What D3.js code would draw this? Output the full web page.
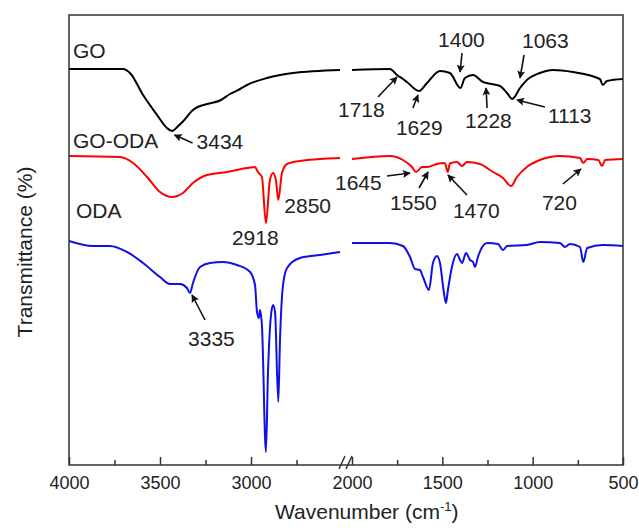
<!DOCTYPE html>
<html>
<head>
<meta charset="UTF-8">
<title>FTIR spectra of GO, GO-ODA and ODA</title>
<script src="https://d3js.org/d3.v7.min.js"></script>
<style>
  body { margin: 0; background: #fff; }
  svg { font-family: "Liberation Sans", Arial, sans-serif; }
</style>
</head>
<body>
<svg id="chart"></svg>
<script>
// spectra: wavenumber (cm-1) and transmittance (a.u.)
const goWn = [4000, 3850, 3703, 3665, 3593, 3516, 3462, 3434, 3400, 3374, 3319, 3242, 3170, 3115, 3060, 3022, 2912, 2769, 2511,
  2000, 1790, 1751, 1718, 1696, 1629, 1585, 1513, 1458, 1400, 1375, 1330, 1275, 1228, 1181, 1142, 1113, 1070, 1032, 960, 888, 777, 628, 612, 589, 500];
const goT = [79.2, 79.2, 79.2, 78.4, 74, 70, 67.4, 66.8, 67.8, 68.7, 71, 72.2, 72.9, 74.2, 75.2, 76, 77.4, 78.4, 79,
  79, 79.2, 78, 77.2, 76.6, 74.8, 76.4, 78.8, 78.4, 75.4, 77.4, 78, 76.6, 76.2, 75.8, 74.4, 73.2, 75.4, 77, 78.4, 79, 78.6, 77.2, 76, 76.8, 77.2];

const goOdaWn = [4000, 3720, 3648, 3571, 3500, 3434, 3374, 3319, 3242, 3132, 3022, 2978, 2962, 2940, 2918, 2896, 2879, 2863, 2850, 2830, 2802, 2731, 2511,
  2000, 1790, 1718, 1668, 1645, 1613, 1585, 1530, 1496, 1485, 1470, 1458, 1419, 1391, 1364, 1292, 1220, 1164, 1120, 1087, 1032, 960, 849, 738, 720, 698, 637, 616, 599, 500];
const goOdaT = [61.8, 61.6, 60.4, 57.6, 54.6, 53.6, 54.4, 56.4, 58, 58.6, 59.4, 59.6, 58.6, 57.6, 48.4, 57, 58.4, 57, 53, 58.4, 60.2, 60.8, 61.4,
  61.2, 61.8, 61, 59.6, 58.6, 59.6, 59.6, 60.2, 60.4, 60.3, 58.6, 60.3, 60.6, 59.8, 60.6, 60.2, 58.6, 57.4, 55.8, 57.6, 59.6, 61, 61.8, 61.4, 60.4, 61.2, 61, 59.8, 61, 61.2];

const odaWn = [4000, 3868, 3775, 3681, 3593, 3500, 3445, 3390, 3352, 3335, 3319, 3280, 3225, 3154, 3077, 3005, 2978, 2967, 2956, 2951, 2940, 2918, 2907, 2890, 2879, 2868, 2850, 2841, 2824, 2802, 2731, 2621, 2511,
  2000, 1790, 1718, 1679, 1651, 1624, 1607, 1574, 1552, 1530, 1513, 1491, 1480, 1469, 1447, 1419, 1402, 1391, 1369, 1347, 1330, 1319, 1303, 1253, 1192, 1164, 1142, 1032, 960, 849, 821, 794, 738, 720, 698, 612, 500];
const odaT = [44.8, 43.8, 43.8, 42.6, 40.4, 37.6, 36.2, 36.2, 35.4, 34.4, 36.4, 39.6, 40.4, 40.6, 40, 38.6, 36, 30.6, 29.4, 31, 28, 2.6, 18, 30, 32, 30.6, 12.6, 24.6, 36, 39.4, 41.4, 42, 42.6,
  44.4, 44.4, 43.8, 41.6, 39.2, 39, 37.6, 35, 40.4, 41.8, 40.4, 34.4, 32.4, 35, 39.6, 42.2, 41, 40.4, 42.4, 41, 40.6, 39.6, 41.6, 44.4, 44.2, 43, 43.8, 44, 44.6, 44.4, 43.6, 44.2, 43.6, 40.6, 43.4, 44, 43.8];

const seriesNames = ["GO", "GO-ODA", "ODA"];
const seriesLabelT = [81.4, 63.4, 49.4];

const majorHigh = [4000, 3500, 3000];
const minorHigh = [3750, 3250, 2750];
const majorLow = [2000, 1500, 1000, 500];
const minorLow = [1750, 1250, 750];

// peak annotations: label, arrow head (wavenumber, transmittance)
const peakLabels = ["3434", "2918", "2850", "3335", "1718", "1629", "1400", "1063", "1228", "1113", "1645", "1550", "1470", "720"];
const peakWn = [3420, 2918, 2850, 3324, 1751, 1635, 1402, 1070, 1258, 1087, 1679, 1579, 1469, 733];
const peakT = [66, 48.4, 53, 34, 77.6, 74, 78.6, 77.4, 75.4, 73, 58.4, 58.6, 58, 59.2];

// layout for the annotations (pixel offsets from arrow head)
const peakLayout = {
  "3434": { tail: [18, 8], text: [22, 14] },
  "2918": { tail: null, text: [-34, 22] },
  "2850": { tail: null, text: [6, 13] },
  "3335": { tail: [13, 25], text: [-4, 51] },
  "1718": { tail: [-19, 20], text: [-59, 40] },
  "1629": { tail: [-5, 13], text: [-22, 40] },
  "1400": { tail: [2, -19], text: [-22, -25] },
  "1063": { tail: [4, -23], text: [2, -30] },
  "1228": { tail: [1, 20], text: [-21, 40] },
  "1113": { tail: [28, 7], text: [31, 23] },
  "1645": { tail: [-23, 3], text: [-75, 17] },
  "1550": { tail: [-9, 16], text: [-38, 38] },
  "1470": { tail: [19, 20], text: [5, 43] },
  "720": { tail: [-18, 15], text: [-39, 41] }
};

const colors = ["#000000", "#ff0000", "#1010e6"];

const w = 639, h = 528;
const padL = 69, padR = 623, padT = 15, padB = 465;

const xHigh = d3.scaleLinear().domain([4000, 2500]).range([padL, 342]);
const xLow = d3.scaleLinear().domain([2000, 500]).range([352, padR]);
const x = wn => wn > 2250 ? xHigh(wn) : xLow(wn);
const y = d3.scaleLinear().domain([0, 90]).range([padB, padT]);

const svg = d3.select("#chart").attr("width", w).attr("height", h);

const line = d3.line()
  .x(d => x(d[0]))
  .y(d => y(d[1]))
  .curve(d3.curveMonotoneX);

const series = [[goWn, goT], [goOdaWn, goOdaT], [odaWn, odaT]];
series.forEach((s, i) => {
  const pts = s[0].map((wn, j) => [wn, s[1][j]]);
  const high = pts.filter(p => p[0] > 2250);
  const low = pts.filter(p => p[0] <= 2250);
  [high, low].forEach(seg => {
    svg.append("path")
      .datum(seg)
      .attr("d", line)
      .attr("fill", "none")
      .attr("stroke", colors[i])
      .attr("stroke-width", 2)
      .attr("stroke-linejoin", "round");
  });
});

// axes
function addAxis(scale, values, size, labels) {
  const ax = d3.axisBottom(scale).tickValues(values).tickSize(-size).tickPadding(11)
    .tickFormat(labels ? d3.format("d") : "");
  const g = svg.append("g")
    .attr("transform", `translate(0,${padB})`)
    .call(ax);
  g.select(".domain").remove();
  g.selectAll(".tick line").attr("stroke", "#333").attr("stroke-width", 1.5);
  g.selectAll("text").attr("font-size", 18).attr("fill", "#222")
    .attr("font-family", "Liberation Sans, Arial, sans-serif");
}
addAxis(xHigh, majorHigh, 8, true);
addAxis(xHigh, minorHigh, 5, false);
addAxis(xLow, majorLow, 8, true);
addAxis(xLow, minorLow, 5, false);

svg.append("rect")
  .attr("x", padL).attr("y", padT)
  .attr("width", padR - padL).attr("height", padB - padT)
  .attr("fill", "none").attr("stroke", "#333").attr("stroke-width", 1.5);

// axis break marks
[342, 349].forEach(bx => {
  svg.append("line")
    .attr("x1", bx - 3).attr("y1", padB + 4)
    .attr("x2", bx + 3).attr("y2", padB - 9)
    .attr("stroke", "#333").attr("stroke-width", 1.5);
});

// axis titles
const xt = svg.append("text")
  .attr("x", 275).attr("y", 519)
  .attr("font-size", 21).attr("fill", "#222");
xt.append("tspan").text("Wavenumber (cm");
xt.append("tspan").attr("dy", -8).attr("font-size", 13).text("-1");
xt.append("tspan").attr("dy", 8).text(")");

svg.append("text")
  .attr("transform", "translate(32,252) rotate(-90)")
  .attr("text-anchor", "middle")
  .attr("font-size", 21).attr("fill", "#222")
  .text("Transmittance (%)");

// series labels
seriesNames.forEach((name, i) => {
  svg.append("text")
    .attr("x", padL + 4 + (name === "ODA" ? 3 : 0))
    .attr("y", y(seriesLabelT[i]))
    .attr("font-size", 21).attr("fill", "#222")
    .text(name);
});

// arrows
svg.append("defs").append("marker")
  .attr("id", "arrow")
  .attr("viewBox", "0 0 10 10")
  .attr("refX", 9).attr("refY", 5)
  .attr("markerWidth", 9).attr("markerHeight", 8)
  .attr("markerUnits", "userSpaceOnUse")
  .attr("orient", "auto")
  .append("path").attr("d", "M0,0 L10,5 L0,10 L2,5 Z").attr("fill", "#111");

peakLabels.forEach((lab, i) => {
  const hx = x(peakWn[i]), hy = y(peakT[i]);
  const lay = peakLayout[lab];
  if (lay.tail) {
    svg.append("line")
      .attr("x1", hx + lay.tail[0]).attr("y1", hy + lay.tail[1])
      .attr("x2", hx).attr("y2", hy)
      .attr("stroke", "#111").attr("stroke-width", 1.6)
      .attr("marker-end", "url(#arrow)");
  }
  svg.append("text")
    .attr("x", hx + lay.text[0]).attr("y", hy + lay.text[1])
    .attr("font-size", 21).attr("fill", "#222")
    .text(lab);
});
</script>
</body>
</html>
